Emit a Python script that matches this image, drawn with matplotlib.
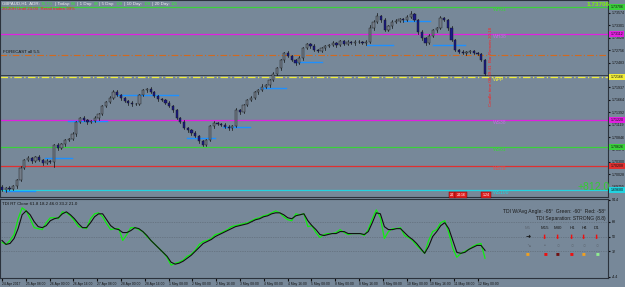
import numpy as np
import matplotlib.pyplot as plt
from matplotlib.patches import Rectangle
from matplotlib.transforms import blended_transform_factory

plt.rcParams['font.family'] = ['Liberation Sans', 'DejaVu Sans']

W, H = 625, 287
BG = '#778899'

# H1 candles (close prices), wick extensions in pips
closes = [
    1.6968, 1.6972, 1.6970, 1.6977, 1.6990, 1.7016, 1.7034, 1.7038, 1.7032, 1.7041,
    1.7034, 1.7027, 1.7032, 1.7030, 1.7067, 1.7060, 1.7069, 1.7078, 1.7080, 1.7091,
    1.7118, 1.7126, 1.7122, 1.7118, 1.7120, 1.7126, 1.7135, 1.7153, 1.7162, 1.7170,
    1.7184, 1.7177, 1.7170, 1.7164, 1.7159, 1.7157, 1.7157, 1.7177, 1.7188, 1.7190,
    1.7184, 1.7175, 1.7168, 1.7166, 1.7159, 1.7153, 1.7144, 1.7126, 1.7118, 1.7104,
    1.7100, 1.7093, 1.7087, 1.7076, 1.7067, 1.7078, 1.7109, 1.7115, 1.7113, 1.7111,
    1.7107, 1.7104, 1.7109, 1.7144, 1.7140, 1.7155, 1.7166, 1.7170, 1.7184, 1.7188,
    1.7195, 1.7199, 1.7210, 1.7223, 1.7236, 1.7254, 1.7269, 1.7263, 1.7254, 1.7247,
    1.7258, 1.7280, 1.7289, 1.7285, 1.7276, 1.7274, 1.7280, 1.7285, 1.7287, 1.7291,
    1.7287, 1.7296, 1.7289, 1.7294, 1.7291, 1.7294, 1.7294, 1.7291, 1.7294, 1.7324,
    1.7338, 1.7351, 1.7342, 1.7320, 1.7329, 1.7338, 1.7340, 1.7344, 1.7342, 1.7349,
    1.7355, 1.7342, 1.7316, 1.7302, 1.7291, 1.7307, 1.7320, 1.7324, 1.7346, 1.7342,
    1.7324, 1.7298, 1.7276, 1.7272, 1.7269, 1.7272, 1.7274, 1.7269, 1.7267, 1.7254,
    1.7223,
]
first_open = 1.6975
wick_up = [
    3, 2, 4, 2, 3, 5, 3, 4, 3, 2,
    3, 2, 4, 3, 2, 5, 3, 2, 3, 4,
    2, 3, 5, 2, 3, 4, 2, 3, 2, 4,
    3, 5, 2, 3, 2, 4, 3, 2, 3, 2,
    4, 2, 3, 2, 3, 5, 2, 3, 2, 4,
    3, 2, 4, 3, 2, 3, 2, 4, 3, 2,
    5, 3, 2, 4, 3, 2, 3, 4, 2, 3,
    6, 3, 2, 4, 3, 2, 3, 5, 2, 3,
    4, 2, 3, 2, 4, 3, 2, 3, 2, 4,
    3, 2, 3, 5, 2, 3, 4, 2, 3, 6,
    3, 7, 3, 4, 2, 3, 5, 2, 3, 4,
    6, 3, 2, 4, 3, 5, 2, 3, 4, 2,
    3, 4, 3, 2, 3, 2, 3, 2, 3, 2,
    2,
]
wick_dn = [
    2, 4, 3, 2, 4, 3, 2, 3, 4, 2,
    3, 4, 2, 3, 12, 3, 2, 4, 3, 2,
    4, 3, 2, 5, 3, 2, 4, 3, 2, 3,
    2, 3, 4, 2, 3, 5, 2, 3, 2, 4,
    3, 2, 4, 3, 2, 3, 4, 2, 3, 2,
    4, 3, 2, 5, 3, 2, 3, 4, 2, 3,
    2, 4, 3, 2, 5, 3, 2, 3, 2, 4,
    3, 2, 4, 3, 2, 3, 4, 2, 3, 5,
    2, 3, 2, 4, 3, 2, 3, 5, 2, 3,
    4, 3, 2, 3, 2, 4, 3, 2, 3, 2,
    3, 2, 4, 3, 2, 5, 3, 2, 4, 3,
    2, 3, 4, 5, 3, 2, 3, 4, 2, 3,
    4, 3, 2, 3, 2, 4, 3, 2, 3, 2,
    3,
]

# TDI lines (green = RSI price line, black = signal)
tdi_green = [
    42.8, 40.4, 45.2, 52.4, 71.6, 84.8, 81.2, 71.6, 60.8, 59.6,
    58.4, 66.8, 72.8, 72.8, 71.6, 80.0, 78.8, 75.2, 69.2, 62.0,
    60.8, 59.6, 71.6, 77.6, 78.8, 74.0, 65.6, 58.4, 59.6, 59.6,
    45.2, 52.4, 60.8, 60.8, 58.4, 56.0, 50.0, 45.2, 40.4, 35.6,
    30.8, 24.8, 15.2, 17.6, 18.8, 21.2, 26.0, 28.4, 33.2, 40.4,
    44.0, 45.2, 47.6, 52.4, 53.6, 56.0, 58.4, 62.0, 63.2, 64.4,
    65.6, 66.8, 69.2, 71.6, 72.8, 75.2, 76.4, 78.8, 81.2, 78.8,
    74.0, 70.4, 69.2, 77.6, 76.4, 77.6, 62.0, 63.2, 54.8, 48.8,
    52.4, 53.6, 53.6, 54.8, 58.4, 54.8, 52.4, 53.6, 53.6, 53.6,
    51.2, 58.4, 71.6, 82.4, 72.8, 47.6, 56.0, 59.6, 59.6, 60.8,
    51.2, 48.8, 45.2, 39.2, 34.4, 29.6, 45.2, 56.0, 58.4, 66.8,
    69.2, 54.8, 35.6, 24.8, 29.6, 32.0, 34.4, 38.0, 40.4, 41.6,
    23.6,
]
tdi_black = [
    45.2, 40.4, 41.6, 47.6, 59.6, 76.4, 81.2, 76.4, 68.0, 62.0,
    60.8, 63.2, 69.2, 71.6, 72.8, 77.6, 80.0, 76.4, 71.6, 65.6,
    60.8, 60.8, 66.8, 74.0, 77.6, 77.6, 70.4, 63.2, 59.6, 58.4,
    54.8, 54.8, 57.2, 60.8, 59.6, 56.0, 51.2, 45.2, 40.4, 35.6,
    30.8, 26.0, 18.8, 16.4, 17.6, 20.0, 23.6, 27.2, 32.0, 36.8,
    41.6, 44.0, 46.4, 50.0, 52.4, 54.8, 57.2, 59.6, 62.0, 63.2,
    64.4, 65.6, 68.0, 70.4, 71.6, 74.0, 75.2, 77.6, 78.8, 78.8,
    76.4, 72.8, 71.6, 75.2, 76.4, 77.6, 69.2, 63.2, 58.4, 52.4,
    51.2, 52.4, 53.6, 53.6, 56.0, 56.0, 53.6, 53.6, 53.6, 53.6,
    52.4, 56.0, 66.8, 78.8, 77.6, 62.0, 58.4, 58.4, 59.6, 59.6,
    54.8, 50.0, 46.4, 41.6, 35.6, 29.6, 38.0, 50.0, 56.0, 63.2,
    66.8, 59.6, 45.2, 30.8, 29.6, 30.8, 34.4, 36.8, 39.2, 39.2,
    33.2,
]

# weekly pivot levels
level_names = ['WH61', 'WH38', 'WPP', 'WS38', 'WS61', 'WS78', 'WS100']
level_prices = [1.73706, 1.73112, 1.72166, 1.71220, 1.70626, 1.70208, 1.69680]
level_colors = ['#3ad13a', '#e020e0', '#f2ee3a', '#e020e0', '#3ad13a', '#e03030', '#22d3e0']
label_colors = ['#3ad13a', '#c070e0', '#f2ee3a', '#c070e0', '#3ad13a', '#e05050', '#22d3e0']
week_open = 1.7265
bid = 1.7221

# daily level markers (start bar, end bar, price)
seg_start = [0.8, 11.6, 17.8, 31.0, 49.8, 59.5, 69.4, 78.9, 98.3, 107.9, 116.0]
seg_end = [8.9, 18.8, 28.3, 47.4, 57.3, 66.8, 76.4, 86.1, 105.2, 115.2, 124.6]
seg_price = [1.6966, 1.7038, 1.7120, 1.7177, 1.7082, 1.7107, 1.7192, 1.7250, 1.7287, 1.7340, 1.7287]

time_labels = ['24 Apr 2017', '25 Apr 08:00', '26 Apr 00:00', '26 Apr 16:00', '27 Apr 08:00',
               '28 Apr 00:00', '28 Apr 16:00', '1 May 08:00', '2 May 00:00', '2 May 16:00',
               '3 May 08:00', '4 May 00:00', '4 May 16:00', '5 May 08:00', '8 May 00:00',
               '8 May 16:00', '9 May 08:00', '10 May 00:00', '10 May 16:00', '11 May 08:00',
               '12 May 00:00']

header_parts = [('GBPAUD,H1  ADR: ', '#f0f0f0'), ('74.7%', '#33ee33'),
                (' | Today: ', '#f0f0f0'), ('68', '#33ee33'),
                (' | 1 Day: ', '#f0f0f0'), ('88', '#33ee33'),
                (' | 5 Day: ', '#f0f0f0'), ('128', '#33ee33'),
                (' | 10 Day: ', '#f0f0f0'), ('108', '#33ee33'),
                (' | 20 Day: ', '#f0f0f0'), ('125', '#33ee33')]

fig = plt.figure(figsize=(W / 100, H / 100), dpi=100, facecolor=BG)
ax = fig.add_axes([0, 1 - 197 / H, 608 / W, 197 / H], facecolor=BG)
ax2 = fig.add_axes([0, 1 - 278 / H, 608 / W, 79 / H], facecolor=BG, sharex=ax)

n = len(closes)
opens = [first_open] + closes[:-1]
for i in range(n):
    o, c = opens[i], closes[i]
    hi = max(o, c) + wick_up[i] * 0.0001
    lo = min(o, c) - wick_dn[i] * 0.0001
    ax.plot([i, i], [lo, hi], color='#111111', lw=0.5, zorder=3)
    fc = '#1a1a86' if c < o else '#737c88'
    ax.add_patch(Rectangle((i - 0.3, min(o, c)), 0.6, max(abs(c - o), 0.00005),
                           facecolor=fc, edgecolor='#151515', lw=0.3, zorder=4))

for name, p, col, lc in zip(level_names, level_prices, level_colors, label_colors):
    ls = (0, (6, 2, 1, 2)) if name == 'WPP' else '-'
    ax.axhline(p, color=col, lw=0.9, ls=ls, zorder=2)
    ax.text(132.2, p - 0.0006, name, color=lc, fontsize=3.6, va='center', zorder=5)
ax.axhline(week_open, color='#d2691e', lw=0.8, ls=(0, (6, 2, 1, 2)), zorder=2)
ax.axhline(bid, color='#353d48', lw=0.7, zorder=2)

for s, e, p in zip(seg_start, seg_end, seg_price):
    ax.plot([s, e], [p, p], color='#1e90ff', lw=1.0, zorder=2)

ax.set_xlim(-0.54, 163.1)
ax.set_ylim(1.69526, 1.7386)
ax.yaxis.tick_right()
ax.set_yticks(np.arange(1.73574, 1.6955, -0.002728))
ax.yaxis.set_major_formatter(plt.FuncFormatter(lambda v, _: f'{v:.5f}'))
ax.tick_params(axis='y', labelsize=2.6, length=1.5, pad=1, colors='#111111')
ax.tick_params(axis='x', bottom=False, labelbottom=False)
for sp in ax.spines.values():
    sp.set_color('#2b323c')
    sp.set_linewidth(0.8)

tr = blended_transform_factory(ax.transAxes, ax.transData)
for p, col in zip(level_prices, level_colors):
    ax.text(1.004, p, f'{p:.5f}', transform=tr, fontsize=2.6, va='center', ha='left',
            color='#111111', bbox=dict(boxstyle='square,pad=0.35', fc=col, ec='none'),
            clip_on=False, zorder=6)

# indicator window
xi = np.linspace(0, n - 1, len(tdi_green))
for lvl in [68, 50, 32]:
    ax2.axhline(lvl, color='#59636f', lw=0.5, ls=(0, (1, 1.5)))
ax2.plot(xi, tdi_green, color='#10ee10', lw=0.9)
ax2.plot(xi, tdi_black, color='#111111', lw=0.8)
ax2.set_ylim(-0.4, 95.6)
ax2.yaxis.tick_right()
ax2.set_yticks([94.4, 68, 50, 32, 1.2])
ax2.set_yticklabels(['94.4', '68', '50', '32', '-4.4'])
ax2.tick_params(axis='y', labelsize=2.6, length=1.5, pad=1, colors='#111111')
ax2.set_xticks(np.arange(len(time_labels)) * 6.406)
ax2.set_xticklabels(time_labels, ha='left')
ax2.tick_params(axis='x', labelsize=2.4, length=2, pad=1, colors='#111111')
for sp in ax2.spines.values():
    sp.set_color('#2b323c')
    sp.set_linewidth(0.8)


def ftext(x, y, s, **kw):
    return fig.text(x / W, 1 - y / H, s, va='center', **kw)


# header, pieces chained one after another
prev = ftext(2, 4, header_parts[0][0], color=header_parts[0][1], fontsize=3.2)
for s, c in header_parts[1:]:
    prev = fig.add_artist(plt.Annotation(s, xy=(1, 0.5), xycoords=prev, va='center',
                                         ha='left', color=c, fontsize=3.2))

ftext(2, 9.5, '20:20H Until 23:00  Retail trades 99%', color='#ff2020', fontsize=3.2)
ftext(3, 52.5, 'FORECAST all 5.5', color='#111111', fontsize=3.2)
ftext(587, 5, '1.73706', color='#7cfc00', fontsize=4.6, fontweight='bold')
ftext(578, 187, '+812.0', color='#32cd32', fontsize=7.5)
fig.text(491 / W, 1 - 67 / H, 'Candle time 00:39:41  Bar Remain 20:18', color='#ff2020',
         fontsize=3.2, rotation=90, ha='center', va='center')

for x, s in [(452, '24'), (461, '24:16'), (486, '1:24')]:
    ftext(x, 195, s, color='white', fontsize=2.6, ha='center',
          bbox=dict(boxstyle='square,pad=0.3', fc='#e02020', ec='#600000', lw=0.3))

# TDI dashboard
ftext(2, 204, 'TDI RT Clone 61.8 18.2 46.0 33.2 21.0', color='#111111', fontsize=3.2)
ftext(606, 212, "TDI W/Avg Angle: -65°  Green: -60°  Red: -58°", color='#1a1a1a', fontsize=3.6, ha='right')
ftext(606, 218.5, 'TDI Separation: STRONG (8.8)', color='#1a1a1a', fontsize=3.6, ha='right')
tf_names = ['M5', 'M15', 'M30', 'H1', 'H4', 'D1']
tf_x = [528, 545, 558, 572, 584, 597]
tf_sq = ['#f0a020', '#ee1010', '#701010', '#ee1010', '#f0a020', '#90ee90']
for k, (t, x, sq) in enumerate(zip(tf_names, tf_x, tf_sq)):
    ftext(x, 228, t, color='#5c6570' if k == 0 else '#1a1a1a', fontsize=3.2, ha='center')
    ftext(x, 237, '➜' if k == 0 else '⬇', color='#111111' if k == 0 else '#ee1010',
          fontsize=4.5, ha='center')
    ftext(x, 245.5, '↘' if k == 0 else ('•' if k == 1 else '○'), color='#5c6570',
          fontsize=3.8, ha='center')
    ftext(x, 254, '■', color=sq, fontsize=4.5, ha='center')

fig.savefig('out.png', dpi=100, facecolor=BG)
